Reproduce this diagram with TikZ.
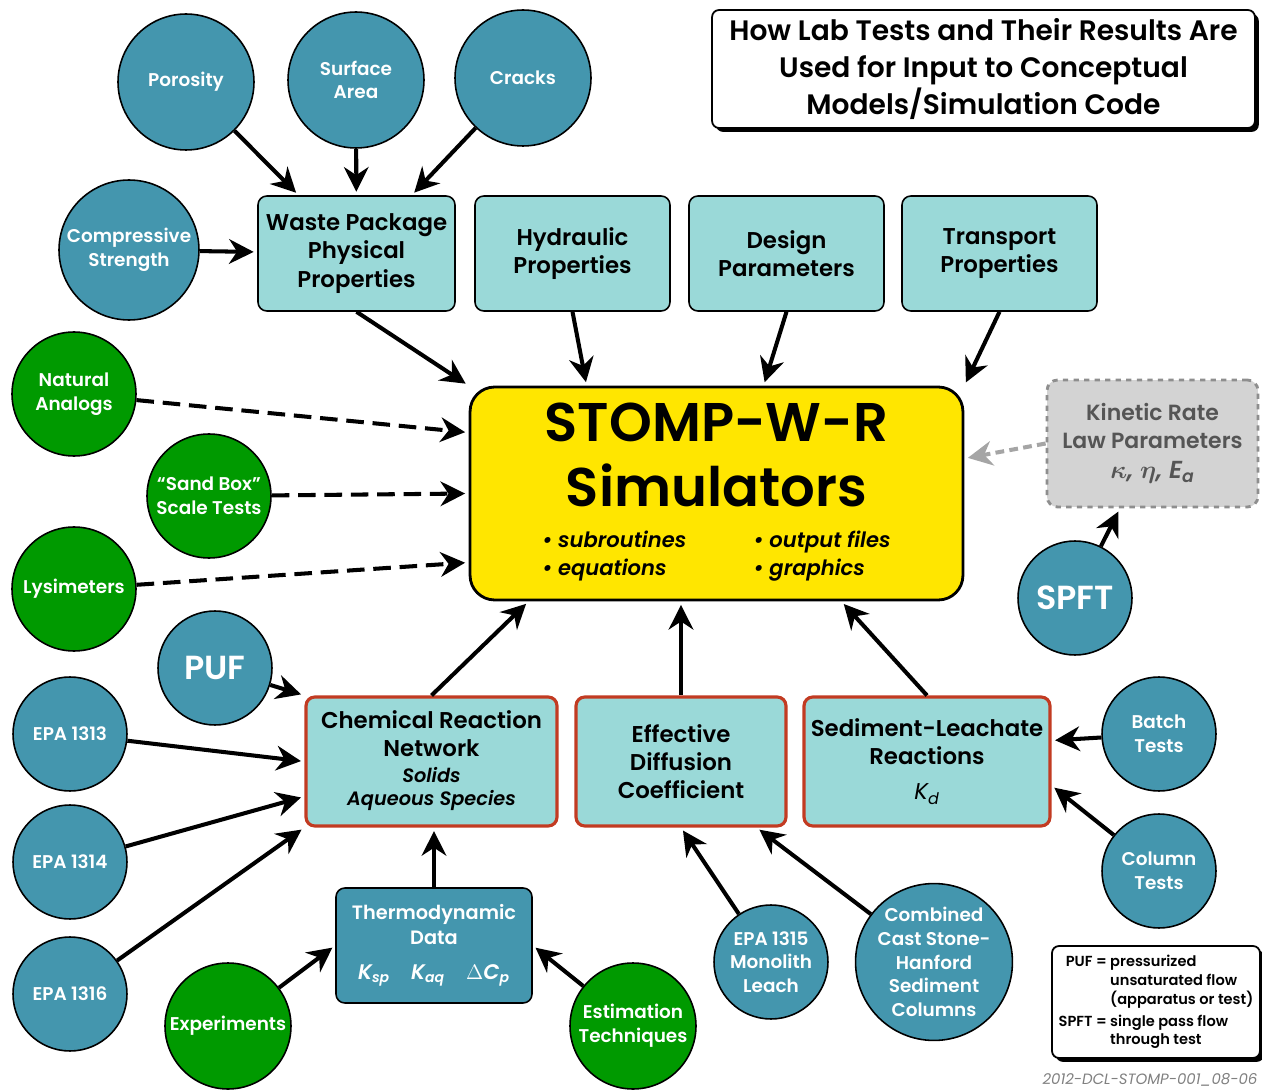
\documentclass[tikz,border=0pt]{standalone}
\usepackage{amsmath}
\usepackage{fontspec}
\setmainfont{Poppins}[BoldFont={Poppins SemiBold},
  BoldItalicFont={Poppins SemiBold Italic}]
\usetikzlibrary{arrows.meta,shadows}
\definecolor{testblue}{HTML}{4496AE}
\definecolor{testgreen}{HTML}{009A00}
\definecolor{proplight}{HTML}{9AD9D8}
\definecolor{edgered}{HTML}{C23B22}
\definecolor{simyellow}{HTML}{FFE600}
\definecolor{kinfill}{HTML}{D3D3D3}
\definecolor{kinedge}{HTML}{8E8E8E}
\definecolor{kintext}{HTML}{555555}
\newcommand{\fsz}[2]{\fontsize{#1}{#2}\selectfont}

\begin{document}
\begin{tikzpicture}[x=0.02cm, y=-0.02cm,
    every node/.style = {align=center},
    lab/.style = {circle, draw=black, line width=0.9pt, fill=testblue,
      text=white, inner sep=0pt, font=\bfseries\fsz{10.5}{13.5}},
    field/.style = {lab, fill=testgreen},
    prop/.style = {rectangle, rounded corners=5pt, draw=black,
      line width=0.9pt, fill=proplight, minimum width=3.9cm,
      minimum height=2.3cm, font=\bfseries\fsz{13}{16}},
    result/.style = {prop, draw=edgered, line width=1.8pt,
      minimum height=2.58cm},
    feed/.style = {line width=2.3pt, -{Stealth[length=14pt,width=14pt]},
      shorten >=2pt},
    maybe/.style = {feed, dash pattern=on 10pt off 5pt},
    boxed/.style = {rectangle, rounded corners=4pt, draw=black,
      line width=1pt, fill=white,
      drop shadow={shadow xshift=2.2pt, shadow yshift=-2.2pt,
        fill=black, opacity=1}},
  ]
  \useasboundingbox (0,0) rectangle (1262,1091);

  % title and legend
  \node[boxed, minimum width=10.86cm, minimum height=2.36cm,
    font=\bfseries\fsz{16}{21}] (title) at (983.5,69)
    {How Lab Tests and Their Results Are\\Used for Input to Conceptual\\Models/Simulation Code};
  \node[boxed, minimum width=4.16cm, minimum height=2.24cm,
    font=\bfseries\fsz{8.3}{10.5}] (legend) at (1156,1002)
    {\begin{tabular}{@{}r@{~}l@{}}
      PUF = & pressurized\\
            & unsaturated flow\\
            & (apparatus or test)\\[2pt]
      SPFT = & single pass flow\\
             & through test
    \end{tabular}};
  \node[font=\itshape\fsz{8.5}{10}, text=gray] (code) at (1150,1080)
    {2012-DCL-STOMP-001\_08-06};

  % inputs for the waste package
  \node[lab, minimum size=2.72cm] (poro) at (186,82) {Porosity};
  \node[lab, minimum size=2.72cm] (surf) at (356,80) {Surface\\Area};
  \node[lab, minimum size=2.72cm] (crack) at (523,78) {Cracks};
  \node[lab, minimum size=2.8cm] (comp) at (129,250) {Compressive\\Strength};

  % property boxes
  \node[prop, minimum width=3.94cm] (waste) at (356.5,253.5)
    {Waste Package\\Physical\\Properties};
  \node[prop] (hydr) at (572.5,253.5) {Hydraulic\\Properties};
  \node[prop] (design) at (786.5,253.5) {Design\\Parameters};
  \node[prop] (trans) at (999.5,253.5) {Transport\\Properties};

  % simulator
  \node[rectangle, rounded corners=14pt, draw=black, line width=1.6pt,
    fill=simyellow, minimum width=9.86cm, minimum height=4.26cm,
    font=\bfseries\fsz{31}{37}] (stomp) at (716.5,493.5)
    {STOMP-W-R\\Simulators\\[-14pt]
     {\itshape\fsz{12}{16}%
      \begin{tabular}[t]{@{}l@{\hspace{3.2em}}l@{}}
        \textbullet\ subroutines & \textbullet\ output files\\
        \textbullet\ equations & \textbullet\ graphics
      \end{tabular}}};

  \node[rectangle, rounded corners=6pt, draw=kinedge, dashed,
    line width=1.6pt, fill=kinfill, text=kintext,
    minimum width=4.22cm, minimum height=2.54cm,
    font=\bfseries\fsz{12.5}{16}] (kin) at (1152.5,443.5)
    {Kinetic Rate\\Law Parameters\\[1pt]
     {\itshape\fsz{14}{16}$\boldsymbol{\kappa}$, $\boldsymbol{\eta}$, E\textsubscript{a}}};

  % field observations
  \node[field, minimum size=2.48cm] (natur) at (74,394) {Natural\\Analogs};
  \node[field, minimum size=2.48cm] (sandbox) at (209,496) {``Sand Box''\\Scale Tests};
  \node[field, minimum size=2.48cm] (lysim) at (74,589) {Lysimeters};

  % lab tests
  \node[lab, minimum size=2.28cm, font=\bfseries\fsz{19}{22}] (spft) at (1075,598) {SPFT};
  \node[lab, minimum size=2.28cm, font=\bfseries\fsz{19}{22}] (puf) at (215,668) {PUF};
  \node[lab, minimum size=2.28cm] (epa1313) at (70,734) {EPA 1313};
  \node[lab, minimum size=2.28cm] (epa1314) at (70,862) {EPA 1314};
  \node[lab, minimum size=2.28cm] (epa1316) at (70,994) {EPA 1316};
  \node[lab, minimum size=2.28cm] (batch) at (1159,734) {Batch\\Tests};
  \node[lab, minimum size=2.28cm] (column) at (1159,871) {Column\\Tests};
  \node[lab, minimum size=2.28cm] (epa1315) at (771,962) {EPA 1315\\Monolith\\Leach};
  \node[lab, minimum size=3.04cm] (castst) at (934,962)
    {Combined\\Cast Stone-\\Hanford\\Sediment\\Columns};
  \node[field, minimum size=2.52cm] (exper) at (228,1026) {Experiments};
  \node[field, minimum size=2.52cm] (estim) at (633,1026) {Estimation\\Techniques};

  % result boxes
  \node[result, minimum width=5.02cm] (chem) at (431.5,761.5)
    {Chemical Reaction\\Network\\[-1pt]
     {\itshape\fsz{11}{13}\begin{tabular}[t]{@{}c@{}}Solids\\Aqueous Species\end{tabular}}};
  \node[result, minimum width=4.2cm] (eff) at (681,761.5)
    {Effective\\Diffusion\\Coefficient};
  \node[result, minimum width=4.92cm] (sed) at (927,761.5)
    {Sediment-Leachate\\Reactions\\[4pt]
     {\mdseries\itshape K\textsubscript{d}}};
  \node[rectangle, rounded corners=5pt, draw=black, line width=0.9pt,
    fill=testblue, text=white, minimum width=3.92cm, minimum height=2.3cm,
    font=\bfseries\fsz{11}{14}] (thermo) at (434,945.5)
    {Thermodynamic\\Data\\[6pt]
     {\itshape\fsz{12}{14}K\textsubscript{sp}\quad K\textsubscript{aq}\quad $\Delta$C\textsubscript{p}}};

  % connectors
  \draw[feed] (poro) -- (waste);
  \draw[feed] (surf) -- (waste);
  \draw[feed] (crack) -- (waste);
  \draw[feed] (comp) -- (waste);
  \draw[feed] (waste.south) -- (stomp.north west);
  \draw[feed] (hydr.south) -- ([xshift=2.36cm]stomp.north west);
  \draw[feed] (design.south) -- ([xshift=5.9cm]stomp.north west);
  \draw[feed] (trans.south) -- (stomp.north east);
  \draw[maybe] (natur) -- ([yshift=1.22cm]stomp.west);
  \draw[maybe] (sandbox) -- (stomp.west);
  \draw[maybe] (lysim) -- ([yshift=-1.38cm]stomp.west);
  \draw[feed, draw=kinedge!80, dash pattern=on 5pt off 3pt]
    (kin.west) -- ([yshift=0.7cm]stomp.east);
  \draw[feed] (spft) -- (kin);
  \draw[feed] (chem.north) -- ([xshift=1.2cm]stomp.south west);
  \draw[feed] (eff.north) -- (eff.north |- stomp.south);
  \draw[feed] (sed.north) -- ([xshift=-2.46cm]stomp.south east);
  \draw[feed] (puf) -- (chem.north west);
  \draw[feed] (epa1313) -- (chem.west);
  \draw[feed] (epa1314) -- ([yshift=-0.7cm]chem.west);
  \draw[feed] (epa1316) -- (chem.south west);
  \draw[feed] (thermo.north) -- (thermo.north |- chem.south);
  \draw[feed] (exper) -- (thermo.west);
  \draw[feed] (estim) -- (thermo.east);
  \draw[feed] (epa1315) -- (eff.south);
  \draw[feed] (castst) -- ([xshift=-0.62cm]eff.south east);
  \draw[feed] (batch) -- ([yshift=0.42cm]sed.east);
  \draw[feed] (column) -- ([yshift=-0.48cm]sed.east);
\end{tikzpicture}
\end{document}
